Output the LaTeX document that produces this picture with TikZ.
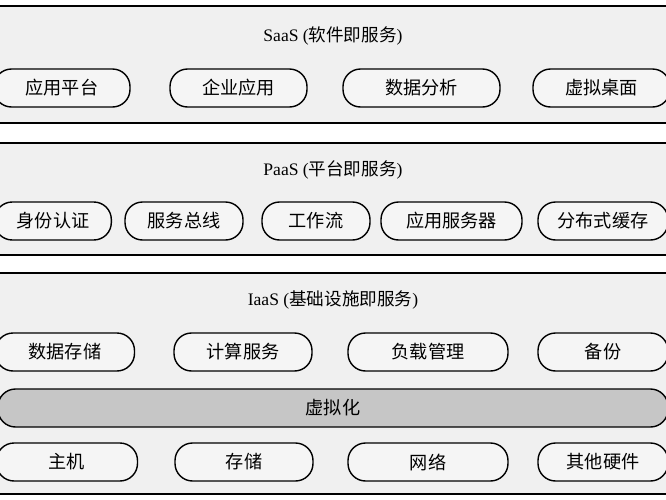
\documentclass[tikz,border=0pt]{standalone}
\usepackage{fontspec}
\setmainfont{Liberation Serif}
\newfontfamily\cjk{Noto Sans CJK SC}
\tikzset{
  layerbox/.style={draw, line width=1pt, fill=gray!12},
  pill/.style={draw, line width=1.2pt, fill=gray!8, rounded corners=15pt, minimum height=1.14cm, font=\cjk\fontsize{15.5}{15.5}\selectfont, inner sep=0pt},
  virt/.style={pill, fill=gray!45},
  ttl/.style={font=\fontsize{15}{15}\selectfont}
}
\begin{document}
\begin{tikzpicture}[x=0.03cm,y=-0.03cm]
\useasboundingbox (0,0) rectangle (666,500);
\clip (0,0) rectangle (666,500);
% layers
\draw[layerbox] (-10,6) rectangle (676,123);
\draw[layerbox] (-10,143) rectangle (676,255);
\draw[layerbox] (-10,273) rectangle (676,494);
\node[ttl] (saas) at (333,36) {SaaS ({\cjk 软件即服务})};
\node[ttl] (paas) at (333,170) {PaaS ({\cjk 平台即服务})};
\node[ttl] (iaas) at (333,300) {IaaS ({\cjk 基础设施即服务})};
% SaaS
\node[pill, minimum width=4.08cm] (s1) at (62,88) {应用平台};
\node[pill, minimum width=4.11cm] (s2) at (238.5,88) {企业应用};
\node[pill, minimum width=4.71cm] (s3) at (421.5,88) {数据分析};
\node[pill, minimum width=4.11cm] (s4) at (601.5,88) {虚拟桌面};
% PaaS
\node[pill, minimum width=3.5cm] (p1) at (53,221) {身份认证};
\node[pill, minimum width=3.54cm] (p2) at (184,221) {服务总线};
\node[pill, minimum width=3.24cm] (p3) at (316,221) {工作流};
\node[pill, minimum width=4.23cm] (p4) at (451.5,221) {应用服务器};
\node[pill, minimum width=3.9cm] (p5) at (603,221) {分布式缓存};
% IaaS
\node[pill, minimum width=4.17cm] (i1) at (65,352) {数据存储};
\node[pill, minimum width=4.14cm] (i2) at (243,352) {计算服务};
\node[pill, minimum width=4.8cm] (i3) at (428,352) {负载管理};
\node[pill, minimum width=3.9cm] (i4) at (603,352) {备份};
\node[virt, minimum width=20.1cm] (v) at (333,408) {虚拟化};
\node[pill, minimum width=4.23cm] (h1) at (67,462) {主机};
\node[pill, minimum width=4.14cm] (h2) at (244,462) {存储};
\node[pill, minimum width=4.8cm] (h3) at (428,462) {网络};
\node[pill, minimum width=3.9cm] (h4) at (603,462) {其他硬件};
\end{tikzpicture}
\end{document}
